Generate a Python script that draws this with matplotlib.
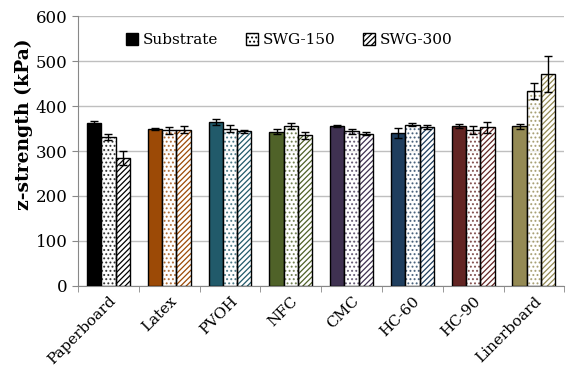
import matplotlib
matplotlib.use('Agg')
import matplotlib.pyplot as plt
import matplotlib.patches as mpatches
import numpy as np

categorias = ['Paperboard', 'Latex', 'PVOH', 'NFC', 'CMC', 'HC-60', 'HC-90', 'Linerboard']
cores = ['#000000', '#9C4A06', '#215A6A', '#4F6228', '#3F3151', '#1F3E5E', '#632523', '#948A54']

substrato = [362, 349, 365, 343, 356, 340, 356, 355]
substrato_err = [4, 2, 6, 6, 3, 11, 5, 5]
swg150 = [331, 346, 350, 356, 344, 359, 347, 434]
swg150_err = [7, 8, 7, 6, 6, 4, 9, 18]
swg300 = [284, 348, 344, 335, 339, 353, 353, 472]
swg300_err = [16, 7, 4, 7, 3, 4, 12, 41]

plt.rcParams['font.family'] = 'DejaVu Serif'
plt.rcParams['hatch.linewidth'] = 0.9

fig = plt.figure(figsize=(5.66, 3.71), dpi=100)
ax = fig.add_axes([0.138, 0.23, 0.859, 0.7256])

x = np.arange(len(categorias))
w = 0.235

# barras com preenchimento (hachura na cor do grupo) e contorno preto por cima
for i in range(len(categorias)):
    c = cores[i]
    ax.bar(x[i] - w, substrato[i], w, color=c, edgecolor='black', linewidth=1, zorder=3)
    ax.bar(x[i], swg150[i], w, color='white', edgecolor=c, hatch='....', linewidth=0, alpha=0.75, zorder=3)
    ax.bar(x[i], swg150[i], w, fill=False, edgecolor='black', linewidth=1, zorder=4)
    ax.bar(x[i] + w, swg300[i], w, color='white', edgecolor=c, hatch='//////', linewidth=0, zorder=3)
    ax.bar(x[i] + w, swg300[i], w, fill=False, edgecolor='black', linewidth=1, zorder=4)

ax.errorbar(x - w, substrato, yerr=substrato_err, fmt='none', ecolor='black', elinewidth=1, capsize=3, zorder=5)
ax.errorbar(x, swg150, yerr=swg150_err, fmt='none', ecolor='black', elinewidth=1, capsize=3, zorder=5)
ax.errorbar(x + w, swg300, yerr=swg300_err, fmt='none', ecolor='black', elinewidth=1, capsize=3, zorder=5)

ax.set_xlim(-0.5, len(categorias) - 0.5)
ax.set_ylim(0, 600)
ax.set_yticks(range(0, 601, 100))
ax.tick_params(axis='y', labelsize=12, length=4, color='#888888')
ax.yaxis.grid(True, color='#BFBFBF', linewidth=1, zorder=0)
ax.set_axisbelow(True)

ax.set_xticks(x)
ax.set_xticklabels(categorias, rotation=45, ha='right', rotation_mode='anchor', fontsize=11)
ax.tick_params(axis='x', which='major', length=0, pad=6)
ax.set_xticks(np.arange(-0.5, len(categorias)), minor=True)
ax.tick_params(axis='x', which='minor', length=4, color='#888888')

for s in ['top', 'right']:
    ax.spines[s].set_visible(False)
ax.spines['left'].set_color('#888888')
ax.spines['bottom'].set_color('#888888')

ax.set_ylabel('z-strength (kPa)', fontsize=13.5, fontweight='bold')
ax.yaxis.set_label_coords(-0.093, 0.6)

h1 = mpatches.Patch(facecolor='black', edgecolor='black', label='Substrate')
h2 = mpatches.Patch(facecolor='white', edgecolor='black', hatch='....', label='SWG-150')
h3 = mpatches.Patch(facecolor='white', edgecolor='black', hatch='//////', label='SWG-300')
ax.legend(handles=[h1, h2, h3], loc='upper left', bbox_to_anchor=(0.07, 0.99), ncol=3,
          frameon=False, fontsize=11, handlelength=0.8, handleheight=0.8,
          handletextpad=0.3, columnspacing=1.8)

plt.savefig('out.png', dpi=100)
